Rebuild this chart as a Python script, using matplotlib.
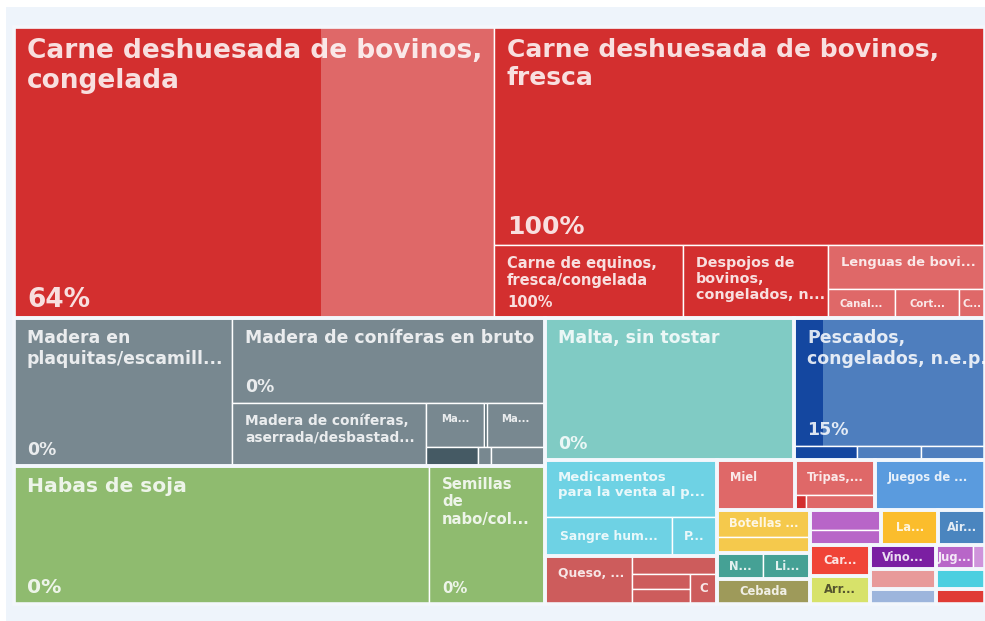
import matplotlib
matplotlib.use("Agg")
import matplotlib.pyplot as plt
from matplotlib.patches import Rectangle

# ---- data (leaf sizes are relative) ----
names = [
    "Carne deshuesada de bovinos,\ncongelada",            # 0
    "Carne deshuesada de bovinos,\nfresca",               # 1
    "Carne de equinos,\nfresca/congelada",                # 2
    "Despojos de\nbovinos,\ncongelados, n...",            # 3
    "Lenguas de bovi...", "Canal...", "Cort...", "C...",  # 4-7
    "Madera en\nplaquitas/escamill...",                   # 8
    "Madera de coníferas en bruto",                       # 9
    "Madera de coníferas,\naserrada/desbastad...",        # 10
    "Ma...", "", "Ma...", "", "", "",                     # 11-16
    "Habas de soja",                                      # 17
    "Semillas\nde\nnabo/col...",                          # 18
    "Malta, sin tostar",                                  # 19
    "Pescados,\ncongelados, n.e.p.",                      # 20
    "", "", "",                                           # 21-23
    "Medicamentos\npara la venta al p...",                # 24
    "Sangre hum...", "P...",                              # 25-26
    "Queso, ...", "", "", "", "C",                        # 27-31
    "Miel", "Tripas,...", "", "", "Juegos de ...",        # 32-36
    "Botellas ...", "", "N...", "Li...", "Cebada",        # 37-41
    "", "", "La...", "Air...",                            # 42-45
    "Car...", "Arr...", "Vino...", "", "",                # 46-50
    "Jug...", "", "", "",                                 # 51-54
]
values = [
    13968, 10704, 1380, 1059, 691, 194, 186, 75,
    3226, 2661, 1222, 260, 9, 260, 96, 24, 100,
    5727, 1601, 3548, 2445, 91, 93, 93,
    980, 485, 169, 424, 152, 89, 86, 82,
    389, 273, 16, 103, 547,
    252, 154, 121, 122, 229,
    142, 107, 200, 163,
    184, 167, 158, 129, 102,
    89, 29, 96, 76,
]
# share shown as darker fill
pcts = [
    64, 100, 100, 100, 0, 0, 0, 0,
    0, 0, 0, 0, 100, 0, 100, 0, 0,
    0, 0, 0, 15, 100, 0, 0,
] + [0] * 31
show_pct = {0, 1, 2, 8, 9, 17, 18, 19, 20}

RED, RED_D = "#df6868", "#d32f2f"
GRAY, GRAY_D = "#788890", "#455a64"
BLUE, BLUE_D = "#4e7ebe", "#1447a0"
base_colors = (
    [RED] * 8 + [GRAY] * 9 + ["#8fbb6f", "#8fbb6f", "#80cbc4", BLUE, BLUE, BLUE, BLUE]
    + ["#6ed2e4"] * 3 + ["#cd5c5c"] * 5
    + ["#df6868", "#df6868", RED_D, "#df6868", "#5a9bde"]
    + ["#f5c94c", "#f5c94c", "#45a195", "#45a195", "#9e9a5a"]
    + ["#b865c8", "#b865c8", "#fbbd2c", "#4a85bf"]
    + ["#f04437", "#d7e26a", "#7b1fa2", "#e89a9a", "#9db5dc"]
    + ["#b866c8", "#cf94db", "#4ccfe0", "#e03b35"]
)
dark_colors = [RED_D] * 8 + [GRAY_D] * 9 + [None] * 3 + [BLUE_D] * 4 + [None] * 31


# ---- layout tree: (direction, children, is_group) ----
def G(*kids, d="h"):
    return (d, list(kids), True)


def N(d, *kids):
    return (d, list(kids), False)


row_a = G(0, N("v", 1, N("h", 2, 3, N("v", 4, N("h", 5, 6, 7)))))
madera = G(8, N("v", 9, N("h", 10, N("v", N("h", 11, 12, 13), N("h", 14, 15, 16)))))
left = N("v", madera, G(17, 18))
top = N("h", G(19), G(20, N("h", 21, 22, 23), d="v"))
medic = N("v", G(24, N("h", 25, 26), d="v"),
          G(27, N("v", 28, N("h", N("v", 29, 30), 31))))
row1 = N("h", G(32), G(33, N("h", 34, 35), d="v"), G(36))
col1 = N("v", G(37, 38, d="v"), G(39, 40), G(41))
row_a2 = N("h", G(42, 43, d="v"), G(44), G(45))
row_b2 = N("h", N("v", G(46), G(47)), N("v", G(48), G(49), G(50)),
           N("v", G(51, 52), G(53), G(54)))
rest = N("v", row1, N("h", col1, N("v", row_a2, row_b2)))
right = N("v", top, N("h", medic, rest))
tree = N("v", row_a, N("h", left, right))


def total(node):
    if isinstance(node, int):
        return values[node]
    return sum(total(k) for k in node[1])


leaf_rects, group_rects = {}, []


def layout(node, x, y, w, h):
    if isinstance(node, int):
        leaf_rects[node] = (x, y, w, h)
        return
    d, kids, grp = node
    if grp:
        group_rects.append((x, y, w, h))
    tot = total(node)
    pos = x if d == "h" else y
    for k in kids:
        s = total(k) / tot
        if d == "h":
            layout(k, pos, y, w * s, h)
            pos += w * s
        else:
            layout(k, x, pos, w, h * s)
            pos += h * s


layout(tree, 14, 27, 971, 577)

# ---- label styles ----
sizes = {0: 19, 1: 18, 2: 10.5, 3: 10.3, 4: 9.4, 5: 7.3, 6: 7.3, 7: 7.3,
         8: 12.4, 9: 12.4, 10: 9.9, 11: 7.3, 13: 7.3, 17: 14.6, 18: 10.7,
         19: 12.5, 20: 12.5, 24: 9.5, 25: 8.9, 26: 8.9, 27: 8.9, 31: 8.5}
top_left = {0, 1, 2, 3, 4, 8, 9, 10, 17, 18, 19, 20, 24, 27, 32, 36}
top_center = {11, 13}
dark_text = {47: "#55552e"}

fig = plt.figure(figsize=(9.85, 6.21), dpi=100)
ax = fig.add_axes([0, 0, 1, 1])
ax.set_xlim(0, 985)
ax.set_ylim(621, 0)
ax.axis("off")
ax.add_patch(Rectangle((6, 7), 985, 621, facecolor="#eef4fb", edgecolor="none"))

for i, (x, y, w, h) in leaf_rects.items():
    ax.add_patch(Rectangle((x, y), w, h, facecolor=base_colors[i], edgecolor="none"))
    if dark_colors[i] and pcts[i] > 0:
        ax.add_patch(Rectangle((x, y), w * pcts[i] / 100, h,
                               facecolor=dark_colors[i], edgecolor="none"))
    ax.add_patch(Rectangle((x, y), w, h, facecolor="none", edgecolor="white", lw=1.0))

for (x, y, w, h) in group_rects:
    ax.add_patch(Rectangle((x, y), w, h, facecolor="none", edgecolor="#f3f7fc", lw=2.6))

txt_col = (1, 1, 1, 0.85)
for i, (x, y, w, h) in leaf_rects.items():
    label = names[i]
    if not label:
        continue
    fs = sizes.get(i, 8.3)
    col = dark_text.get(i, txt_col)
    kw = dict(fontsize=fs, fontweight="bold", color=col, family="DejaVu Sans")
    if i in top_left:
        ax.text(x + 13, y + 11, label, ha="left", va="top", linespacing=1.2, **kw)
    elif i in top_center:
        ax.text(x + w / 2, y + 11, label, ha="center", va="top", **kw)
    else:
        ax.text(x + w / 2, y + h / 2, label, ha="center", va="center", **kw)
    if i in show_pct:
        ax.text(x + 13, y + h - 11, f"{pcts[i]}%", ha="left", va="baseline", **kw)

fig.savefig("out.png", dpi=100, facecolor="white")
